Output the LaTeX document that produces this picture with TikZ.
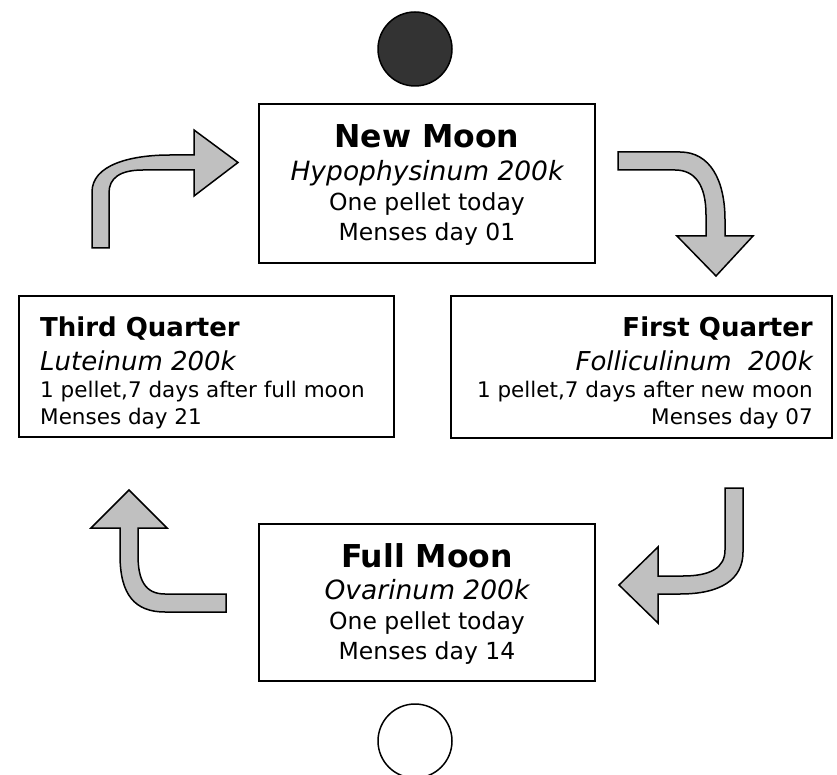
\documentclass[tikz,border=0pt]{standalone}
\usepackage{fontspec}
\setmainfont{DejaVu Sans}
\usepackage{tikz}
\usetikzlibrary{positioning}
\definecolor{arrowgray}{HTML}{C0C0C0}
\definecolor{moondark}{HTML}{333333}
\newcommand{\bigtitle}{\fontsize{31.5}{36}\selectfont\bfseries}
\newcommand{\bigremedy}{\fontsize{26.5}{30}\selectfont\itshape}
\newcommand{\bigbody}{\fontsize{23.5}{28}\selectfont}
\newcommand{\smalltitle}{\fontsize{26}{30}\selectfont\bfseries}
\newcommand{\smallremedy}{\fontsize{26}{30}\selectfont\itshape}
\newcommand{\smallbody}{\fontsize{21.5}{25}\selectfont}

\begin{document}
\begin{tikzpicture}[x=1pt,y=-1pt]
	\tikzset{phaseBox/.style={draw,line width=1.5pt,inner sep=0}}
	\tikzset{moon/.style={circle,draw,line width=1.5pt,minimum size=74,inner sep=0}}
	\tikzset{line/.style={anchor=base,inner sep=0}}
	\tikzset{bendArrow/.style={draw,line width=1.5pt,fill=arrowgray,line join=miter}}
	\useasboundingbox (0,0) rectangle (837,775);
	
	% The four phase boxes
	\node (newBox) at (427,183.5) [phaseBox,minimum width=336,minimum height=159] {};
	\node (firstBox) at (641.5,367) [phaseBox,minimum width=381,minimum height=142] {};
	\node (fullBox) at (427,602.5) [phaseBox,minimum width=336,minimum height=157] {};
	\node (thirdBox) at (206.5,366.5) [phaseBox,minimum width=375,minimum height=141] {};
	
	% The moons
	\node (newMoon) at (415,49) [moon,fill=moondark] {};
	\node (fullMoon) at (415,741) [moon,fill=white] {};
	
	% New Moon text
	\node (newT) at (427,148) [line] {\bigtitle New Moon};
	\node (newR) at (427,181) [line] {\bigremedy Hypophysinum 200k};
	\node (newP) at (427,211) [line] {\bigbody One pellet today};
	\node (newD) at (427,241) [line] {\bigbody Menses day 01};
	
	% Full Moon text
	\node (fullT) at (427,567) [line] {\bigtitle Full Moon};
	\node (fullR) at (427,599) [line] {\bigremedy Ovarinum 200k};
	\node (fullP) at (427,629) [line] {\bigbody One pellet today};
	\node (fullD) at (427,659) [line] {\bigbody Menses day 14};
	
	% First Quarter text, right aligned
	\node (firstT) at (813,336) [line,anchor=base east] {\smalltitle First Quarter};
	\node (firstR) at (813,370) [line,anchor=base east] {\smallremedy Folliculinum~~200k};
	\node (firstP) at (813,397) [line,anchor=base east] {\smallbody 1 pellet,7 days after new moon};
	\node (firstD) at (813,424) [line,anchor=base east] {\smallbody Menses day 07};
	
	% Third Quarter text, left aligned
	\node (thirdT) at (40,336) [line,anchor=base west] {\smalltitle Third Quarter};
	\node (thirdR) at (40,370) [line,anchor=base west] {\smallremedy Luteinum 200k};
	\node (thirdP) at (40,397) [line,anchor=base west] {\smallbody 1 pellet,7 days after full moon};
	\node (thirdD) at (40,424) [line,anchor=base west] {\smallbody Menses day 21};
	
	% Bent arrows between the phases
	\draw[bendArrow] (92,248) -- (92,192) .. controls (92,165) and (130,155) .. (170,155)
		-- (194,155) -- (194,130) -- (238,162.5) -- (194,196) -- (194,170) -- (143,170)
		.. controls (120,170) and (109,178) .. (109,193) -- (109,248) -- cycle;
	\draw[bendArrow] (618,152) -- (680,152) .. controls (710,152) and (725,180) .. (725,220)
		-- (725,236) -- (753,236) -- (716,276) -- (677,236) -- (706,236) -- (706,215)
		.. controls (706,185) and (695,170) .. (675,170) -- (618,170) -- cycle;
	\draw[bendArrow] (743,488) -- (743,552) .. controls (743,580) and (720,594) .. (680,594)
		-- (658,594) -- (658,623) -- (619,585) -- (658,547) -- (658,576) -- (683,576)
		.. controls (710,576) and (725,568) .. (725,550) -- (725,488) -- cycle;
	\draw[bendArrow] (226,612) -- (165,612) .. controls (135,612) and (120,595) .. (120,555)
		-- (120,528) -- (91,528) -- (129,490) -- (167,528) -- (138,528) -- (138,555)
		.. controls (138,580) and (145,594) .. (165,594) -- (226,594) -- cycle;
\end{tikzpicture}
\end{document}
